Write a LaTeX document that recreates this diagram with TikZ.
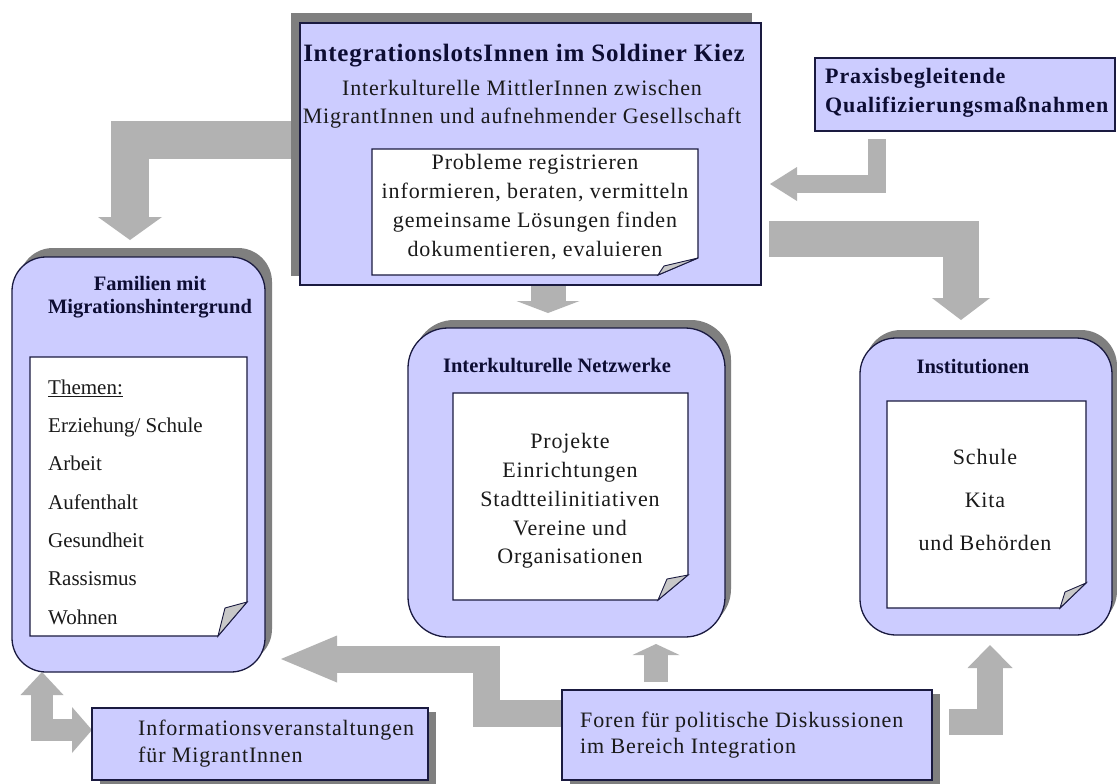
\documentclass[tikz,border=0pt]{standalone}
\usepackage{fontspec}
\setmainfont{Liberation Serif}
\newfontfamily\bodyfont[LetterSpace=4]{Liberation Serif}
\newfontfamily\headfont[LetterSpace=3]{Liberation Serif}
\usetikzlibrary{arrows.meta}
\definecolor{lavfill}{HTML}{CCCCFF}
\definecolor{shadecol}{HTML}{7F7F7F}
\definecolor{arrowcol}{HTML}{B2B2B2}
\definecolor{edgecol}{HTML}{1A1A40}
\definecolor{flapcol}{HTML}{C8C8C8}
\definecolor{titlecol}{HTML}{0D0D33}
\definecolor{bodycol}{HTML}{1A1A1A}
\tikzset{
  lav/.style={fill=lavfill, draw=edgecol, line width=1.3pt, inner sep=0pt, outer sep=0pt},
  shadowbox/.style={fill=shadecol, inner sep=0pt, outer sep=0pt},
  paper/.style={fill=white, draw=edgecol, line width=1.1pt, line join=miter},
  flapst/.style={fill=flapcol, draw=edgecol, line width=0.9pt},
  flow/.style={draw=arrowcol, line join=miter, line cap=butt},
  body/.style={font=\bodyfont\fontsize{22}{29}\selectfont, text=bodycol, inner sep=0pt},
  head/.style={font=\bfseries\fontsize{20.5}{23}\selectfont, text=titlecol, inner sep=0pt},
}
\begin{document}
\begin{tikzpicture}[x=1pt,y=-1pt]
\useasboundingbox (0,0) rectangle (1117,784);
\fill[white] (0,0) rectangle (1117,784);

% connector end points
\coordinate (a1s) at (300,140);  \coordinate (a1e) at (130,240);
\coordinate (a2s) at (877,139);  \coordinate (a2e) at (770,184);
\coordinate (a3s) at (769,239);  \coordinate (a3e) at (961,320);
\coordinate (a4s) at (548,285);  \coordinate (a4e) at (548,313);
\coordinate (a5s) at (656,682);  \coordinate (a5e) at (656,644);
\coordinate (a6s) at (949,722);  \coordinate (a6e) at (990,645);
\coordinate (a7s) at (562,713);  \coordinate (a7m) at (486,659); \coordinate (a7e) at (281,659);
\coordinate (a8s) at (42,672);   \coordinate (a8e) at (92,730);

% block arrows
\draw[flow, line width=38pt, -{Triangle[width=64pt,length=23pt,line width=0pt]}] (a1s) -| (a1e);
\draw[flow, line width=18pt, -{Triangle[width=34pt,length=27pt,line width=0pt]}] (a2s) |- (a2e);
\draw[flow, line width=36pt, -{Triangle[width=58pt,length=22pt,line width=0pt]}] (a3s) -| (a3e);
\draw[flow, line width=35pt, -{Triangle[width=63pt,length=12pt,line width=0pt]}] (a4s) -- (a4e);
\draw[flow, line width=24pt, -{Triangle[width=47pt,length=11pt,line width=0pt]}] (a5s) -- (a5e);
\draw[flow, line width=26pt, -{Triangle[width=45pt,length=23pt,line width=0pt]}] (a6s) -| (a6e);
\draw[flow, line width=27pt, -{Triangle[width=47pt,length=56pt,line width=0pt]}] (a7s) -| (a7m) -- (a7e);
\draw[flow, line width=22pt, {Triangle[width=43pt,length=23pt,line width=0pt]}-{Triangle[width=46pt,length=20pt,line width=0pt]}] (a8s) |- (a8e);

% top box
\node[shadowbox, minimum width=461pt, minimum height=263pt] (integsh) at (521.5,144.5) {};
\node[lav, minimum width=461pt, minimum height=262pt] (integ) at (530.5,154) {};
% Praxis box
\node[lav, minimum width=300pt, minimum height=73pt] (praxis) at (965,94.5) {};
% Familien
\node[shadowbox, rounded corners=34pt, minimum width=253pt, minimum height=415pt] (famsh) at (145.5,455.5) {};
\node[lav, rounded corners=34pt, minimum width=253pt, minimum height=415pt] (fam) at (138.5,464.5) {};
% Netzwerke
\node[shadowbox, rounded corners=40pt, minimum width=317pt, minimum height=309pt] (netsh) at (572.5,474.5) {};
\node[lav, rounded corners=40pt, minimum width=317pt, minimum height=309pt] (net) at (566.5,482.5) {};
% Institutionen
\node[shadowbox, rounded corners=36pt, minimum width=252pt, minimum height=297pt] (instsh) at (991,478.5) {};
\node[lav, rounded corners=36pt, minimum width=252pt, minimum height=297pt] (inst) at (986,486.5) {};
% Info
\node[shadowbox, minimum width=336pt, minimum height=72pt] (infosh) at (268,748) {};
\node[lav, minimum width=336pt, minimum height=72pt] (info) at (260,744) {};
% Foren
\node[shadowbox, minimum width=370pt, minimum height=90pt] (forensh) at (755,739) {};
\node[lav, minimum width=370pt, minimum height=90pt] (foren) at (747,735) {};

% paper sheets with folded corner
\draw[paper] (372,149) -- (698,149) -- (698,258) -- (658,275) -- (372,275) -- cycle;
\draw[flapst] (658,275) -- (664,266) -- (698,258) -- cycle;
\draw[paper] (30,357) -- (247,357) -- (247,602) -- (218,636) -- (30,636) -- cycle;
\draw[flapst] (218,636) -- (225,608) -- (247,602) -- cycle;
\draw[paper] (453,393) -- (688,393) -- (688,575) -- (658,600) -- (453,600) -- cycle;
\draw[flapst] (658,600) -- (667,579) -- (688,575) -- cycle;
\draw[paper] (887,401) -- (1086,401) -- (1086,583) -- (1060,608) -- (887,608) -- cycle;
\draw[flapst] (1060,608) -- (1065,592) -- (1086,583) -- cycle;

% texts
\node[inner sep=0pt, text=titlecol, font=\headfont\bfseries\fontsize{25}{28}\selectfont] (title) at (524,56) {IntegrationslotsInnen im Soldiner Kiez};
\node[body, align=center, font=\bodyfont\fontsize{22}{28}\selectfont] (sub) at (522,104) {Interkulturelle MittlerInnen zwischen\\MigrantInnen und aufnehmender Gesellschaft};
\node[body, align=center] (tasks) at (535,207) {Probleme registrieren\\informieren, beraten, vermitteln\\gemeinsame Lösungen finden\\dokumentieren, evaluieren};
\node[body, anchor=west, align=left, text=titlecol, font=\bodyfont\bfseries\fontsize{22}{29}\selectfont] (praxistxt) at (825,93) {Praxisbegleitende\\Qualifizierungsmaßnahmen};
\node[head, align=center] (famtitle) at (150,297) {Familien mit\\Migrationshintergrund};
\node[body, anchor=west, align=left, font=\rmfamily\fontsize{21}{38.3}\selectfont] (famlist) at (48,502) {\underline{Themen:}\\Erziehung/ Schule\\Arbeit\\Aufenthalt\\Gesundheit\\Rassismus\\Wohnen};
\node[head] (nettitle) at (557,366) {Interkulturelle Netzwerke};
\node[body, align=center, font=\bodyfont\fontsize{22}{28.75}\selectfont] (netlist) at (570,501) {Projekte\\Einrichtungen\\Stadtteilinitiativen\\Vereine und\\Organisationen};
\node[head] (insttitle) at (973,367) {Institutionen};
\node[body, align=center, font=\bodyfont\fontsize{22}{43}\selectfont] (instlist) at (985,500) {Schule\\Kita\\und Behörden};
\node[body, anchor=west, align=left, font=\bodyfont\fontsize{22}{27}\selectfont] (infotxt) at (138,744) {Informationsveranstaltungen\\für MigrantInnen};
\node[body, anchor=west, align=left, font=\bodyfont\fontsize{22}{26}\selectfont] (forentxt) at (580,735) {Foren für politische Diskussionen\\im Bereich Integration};
\end{tikzpicture}
\end{document}
